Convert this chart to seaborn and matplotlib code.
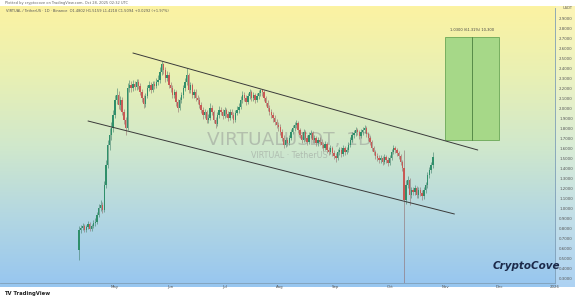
import numpy as np
import pandas as pd
import matplotlib
matplotlib.use("Agg")
import matplotlib.pyplot as plt
import matplotlib.dates as mdates
from matplotlib.patches import Rectangle
from matplotlib.colors import LinearSegmentedColormap
import seaborn as sns

sns.set_theme(style="white")
plt.rcParams['font.family'] = ['DejaVu Sans']

# ---------------- data ----------------
start_date = "2025-04-11"
first_open = 0.58
closes = [
    0.78, 0.80, 0.82, 0.78, 0.81, 0.84, 0.79, 0.82, 0.85, 0.86,
    0.93, 1.00, 1.03, 0.98, 1.23, 1.43, 1.63, 1.73, 1.80, 1.93,
    2.08, 2.13, 2.03, 2.08, 1.96, 1.88, 1.80, 2.20, 2.23, 2.20,
    2.24, 2.21, 2.26, 2.22, 2.16, 2.10, 2.04, 2.12, 2.20, 2.23,
    2.18, 2.24, 2.22, 2.26, 2.28, 2.36, 2.44, 2.38, 2.30, 2.33,
    2.23, 2.20, 2.13, 2.16, 2.06, 2.00, 2.08, 2.13, 2.20, 2.26,
    2.33, 2.18, 2.23, 2.13, 2.16, 2.10, 2.08, 2.03, 1.98, 1.93,
    1.96, 1.88, 1.90, 2.00, 1.96, 1.88, 1.84, 1.93, 1.98, 1.96,
    1.92, 1.98, 1.94, 1.90, 1.96, 1.93, 1.88, 1.95, 1.98, 2.01,
    2.08, 2.13, 2.10, 2.06, 2.12, 2.16, 2.10, 2.13, 2.08, 2.12,
    2.15, 2.18, 2.16, 2.10, 2.05, 2.00, 1.96, 1.93, 1.90, 1.86,
    1.83, 1.81, 1.76, 1.70, 1.63, 1.68, 1.65, 1.70, 1.76, 1.80,
    1.83, 1.85, 1.78, 1.73, 1.68, 1.76, 1.70, 1.66, 1.73, 1.75,
    1.68, 1.70, 1.65, 1.68, 1.66, 1.63, 1.60, 1.64, 1.58, 1.56,
    1.60, 1.55, 1.52, 1.50, 1.56, 1.58, 1.54, 1.60, 1.56, 1.58,
    1.63, 1.68, 1.73, 1.75, 1.78, 1.76, 1.72, 1.76, 1.78, 1.80,
    1.74, 1.70, 1.66, 1.60, 1.56, 1.52, 1.50, 1.48, 1.50, 1.46,
    1.51, 1.48, 1.45, 1.50, 1.56, 1.60, 1.58, 1.55, 1.52, 1.46,
    1.40, 1.08, 1.23, 1.28, 1.13, 1.18, 1.16, 1.20, 1.13, 1.18,
    1.15, 1.12, 1.18, 1.23, 1.33, 1.38, 1.43, 1.51,
]
highs = [
    0.82, 0.83, 0.85, 0.84, 0.83, 0.87, 0.86, 0.84, 0.88, 0.90,
    0.96, 1.04, 1.08, 1.06, 1.27, 1.48, 1.68, 1.80, 1.86, 1.98,
    2.13, 2.20, 2.17, 2.12, 2.11, 1.99, 1.91, 2.25, 2.28, 2.27,
    2.28, 2.27, 2.29, 2.29, 2.25, 2.19, 2.13, 2.15, 2.23, 2.27,
    2.26, 2.27, 2.27, 2.30, 2.33, 2.41, 2.47, 2.45, 2.41, 2.37,
    2.36, 2.26, 2.23, 2.19, 2.18, 2.09, 2.11, 2.16, 2.23, 2.30,
    2.40, 2.35, 2.26, 2.25, 2.19, 2.19, 2.13, 2.11, 2.06, 2.01,
    1.99, 1.98, 1.94, 2.05, 2.03, 1.98, 1.91, 1.96, 2.02, 2.01,
    1.99, 2.01, 2.00, 1.97, 1.99, 1.99, 1.96, 1.98, 2.02, 2.05,
    2.12, 2.17, 2.16, 2.13, 2.15, 2.19, 2.18, 2.16, 2.15, 2.15,
    2.18, 2.19, 2.19, 2.18, 2.12, 2.08, 2.03, 1.99, 1.96, 1.93,
    1.89, 1.86, 1.84, 1.79, 1.73, 1.71, 1.71, 1.73, 1.79, 1.83,
    1.86, 1.88, 1.87, 1.80, 1.76, 1.79, 1.78, 1.73, 1.76, 1.78,
    1.77, 1.73, 1.72, 1.71, 1.71, 1.69, 1.66, 1.67, 1.66, 1.61,
    1.63, 1.62, 1.58, 1.55, 1.59, 1.61, 1.61, 1.63, 1.62, 1.61,
    1.66, 1.71, 1.76, 1.78, 1.81, 1.80, 1.78, 1.79, 1.81, 1.83,
    1.82, 1.76, 1.72, 1.68, 1.62, 1.58, 1.55, 1.53, 1.53, 1.52,
    1.54, 1.53, 1.51, 1.53, 1.59, 1.63, 1.62, 1.60, 1.57, 1.54,
    1.48, 1.58, 1.28, 1.32, 1.30, 1.21, 1.21, 1.23, 1.22, 1.21,
    1.21, 1.18, 1.21, 1.26, 1.36, 1.41, 1.46, 1.56,
]
lows = [
    0.48, 0.75, 0.78, 0.76, 0.76, 0.79, 0.77, 0.77, 0.80, 0.82,
    0.84, 0.91, 0.97, 0.95, 0.96, 1.20, 1.40, 1.58, 1.68, 1.76,
    1.90, 2.04, 1.99, 1.98, 1.93, 1.84, 1.73, 1.78, 2.16, 2.16,
    2.17, 2.18, 2.18, 2.19, 2.13, 2.06, 2.00, 2.01, 2.10, 2.17,
    2.15, 2.16, 2.19, 2.20, 2.23, 2.25, 2.33, 2.34, 2.26, 2.27,
    2.20, 2.16, 2.10, 2.10, 2.02, 1.96, 1.98, 2.05, 2.10, 2.17,
    2.23, 2.15, 2.15, 2.10, 2.10, 2.07, 2.04, 2.00, 1.95, 1.89,
    1.90, 1.85, 1.85, 1.88, 1.93, 1.85, 1.80, 1.82, 1.90, 1.93,
    1.89, 1.90, 1.91, 1.87, 1.88, 1.90, 1.85, 1.86, 1.93, 1.95,
    1.99, 2.05, 2.07, 2.03, 2.04, 2.09, 2.07, 2.07, 2.05, 2.06,
    2.09, 2.12, 2.12, 2.07, 2.02, 1.97, 1.93, 1.90, 1.86, 1.83,
    1.80, 1.77, 1.73, 1.67, 1.60, 1.61, 1.62, 1.63, 1.68, 1.74,
    1.77, 1.80, 1.75, 1.70, 1.65, 1.66, 1.67, 1.63, 1.64, 1.70,
    1.65, 1.65, 1.62, 1.62, 1.63, 1.60, 1.57, 1.58, 1.55, 1.53,
    1.54, 1.52, 1.49, 1.46, 1.48, 1.53, 1.51, 1.52, 1.53, 1.54,
    1.56, 1.61, 1.66, 1.70, 1.72, 1.73, 1.69, 1.70, 1.73, 1.75,
    1.71, 1.67, 1.63, 1.57, 1.53, 1.49, 1.47, 1.45, 1.45, 1.43,
    1.44, 1.45, 1.42, 1.43, 1.48, 1.54, 1.55, 1.52, 1.49, 1.43,
    1.37, 0.10, 1.04, 1.20, 1.03, 1.10, 1.13, 1.13, 1.10, 1.10,
    1.12, 1.08, 1.09, 1.15, 1.20, 1.30, 1.35, 1.40,
]

channel_lines = ["upper", "upper", "lower", "lower"]
channel_dates = ["2025-05-11", "2025-11-19", "2025-04-16", "2025-11-06"]
channel_prices = [2.55, 1.58, 1.87, 0.94]

target_start, target_end, target_mid = "2025-11-01", "2025-12-01", "2025-11-16"
target_low, target_high = 1.68, 2.71
target_label = "1.0300 (61.31%) 10,300"

month_ticks = ["2025-05-01", "2025-06-01", "2025-07-01", "2025-08-01", "2025-09-01",
               "2025-10-01", "2025-11-01", "2025-12-01", "2026-01-01"]
month_labels = ["May", "Jun", "Jul", "Aug", "Sep", "Oct", "Nov", "Dec", "2026"]
price_ticks = [round(0.3 + 0.1 * k, 1) for k in range(27)]

# ---------------- frame ----------------
opens = [first_open] + closes[:-1]
dates = pd.date_range(start_date, periods=len(closes), freq="D")
df = pd.DataFrame({"date": dates, "open": opens, "high": highs, "low": lows, "close": closes})
df["x"] = mdates.date2num(df["date"])
df["up"] = df["close"] >= df["open"]

W, H = 575, 301
fig = plt.figure(figsize=(W / 100, H / 100), dpi=100, facecolor="white")

def fx(px):
    return px / W

def fy(py):
    return 1 - py / H

# gradient background
bg = fig.add_axes([0, fy(287), 1, fy(6) - fy(287)], zorder=0)
cmap = LinearSegmentedColormap.from_list("g", ["#fcf3a2", "#e8f0b4", "#d0e8cc", "#b3d7e2", "#97c6f0"])
grad = np.linspace(0, 1, 256).reshape(-1, 1)
bg.imshow(grad, aspect="auto", cmap=cmap, extent=[0, 1, 0, 1], origin="upper")
bg.add_patch(Rectangle((556 / W, 0), 1, 1, transform=bg.transAxes, color="white", alpha=0.22, lw=0))
bg.set_axis_off()

ax = fig.add_axes([0, fy(283), fx(555), fy(8) - fy(283)], zorder=1)
ax.set_facecolor("none")

green, red = "#2f8f6a", "#c85a55"
wick_green, wick_red = "#3f7f6a", "#8f6a6a"
cols = np.where(df["up"], green, red)
wcols = np.where(df["up"], wick_green, wick_red)
ax.vlines(df["x"], df["low"], df["high"], colors=wcols, lw=0.4, zorder=3)
body_bottom = np.minimum(df["open"], df["close"])
body_h = np.maximum(np.abs(df["close"] - df["open"]), 0.004)
ax.bar(df["x"], body_h, bottom=body_bottom, width=0.75, color=cols, lw=0, zorder=4)

ch = pd.DataFrame({"line": channel_lines,
                   "x": mdates.date2num(pd.to_datetime(channel_dates)),
                   "price": channel_prices})
sns.lineplot(data=ch, x="x", y="price", units="line", estimator=None,
             color="#3a3a3a", lw=0.7, ax=ax, zorder=5, legend=False)

t0 = mdates.date2num(pd.Timestamp(target_start))
t1 = mdates.date2num(pd.Timestamp(target_end))
tm = mdates.date2num(pd.Timestamp(target_mid))
ax.add_patch(Rectangle((t0, target_low), t1 - t0, target_high - target_low,
                       fc="#a6d888", ec="#6aa757", lw=0.6, zorder=2))
ax.plot([tm, tm], [target_low, target_high], color="#4a7f3e", lw=0.6, zorder=3)
ax.text(tm, target_high + 0.05, target_label, ha="center", va="bottom", fontsize=2.6, color="#444")

# watermark
ax.text(0.522, 0.52, "VIRTUALUSDT, 1D", transform=ax.transAxes, ha="center", va="center",
        fontsize=13.3, color="#8c8c8c", alpha=0.45, zorder=1)
ax.text(0.522, 0.462, "VIRTUAL · TetherUS", transform=ax.transAxes, ha="center", va="center",
        fontsize=5.8, color="#8c8c8c", alpha=0.45, zorder=1)

ax.set_xlim(mdates.date2num(pd.Timestamp("2025-02-26")), mdates.date2num(pd.Timestamp("2026-01-01")))
ax.set_ylim(0.25, 3.00)
ax.set_xlabel("")
ax.set_ylabel("")

ax.set_xticks(mdates.date2num(pd.to_datetime(month_ticks)))
ax.set_xticklabels(month_labels)
ax.yaxis.tick_right()
ax.set_yticks(price_ticks)
ax.set_yticklabels([f"{v:.4f}" for v in price_ticks])
ax.tick_params(axis="x", length=0, pad=1.2, labelsize=2.8, colors="#555555")
ax.tick_params(axis="y", length=0, pad=3, labelsize=2.8, colors="#555555")
for s in ["top", "left"]:
    ax.spines[s].set_visible(False)
for s in ["right", "bottom"]:
    ax.spines[s].set_color("#7f9fb8")
    ax.spines[s].set_linewidth(0.6)
ax.grid(False)

# header / footer texts
fig.text(fx(5), fy(3), "Plotted by cryptocove on TradingView.com, Oct 28, 2025 02:32 UTC",
         fontsize=2.6, color="#666", va="center")
fig.text(fx(6), fy(11), "VIRTUAL / TetherUS · 1D · Binance  O1.4802 H1.5159 L1.4218 C1.5094 +0.0292 (+1.97%)",
         fontsize=2.6, color="#555", va="center")
fig.text(fx(563), fy(8), "USDT", fontsize=2.6, color="#555", va="center")
fig.text(fx(493), fy(266), "CryptoCove", fontsize=7.5, fontweight="bold", fontstyle="italic",
         color="#1c2a4a", va="center")
fig.text(fx(4), fy(294), "TV TradingView", fontsize=3.8, fontweight="bold", color="#222", va="center")

fig.savefig("out.png", dpi=100, facecolor="white")
